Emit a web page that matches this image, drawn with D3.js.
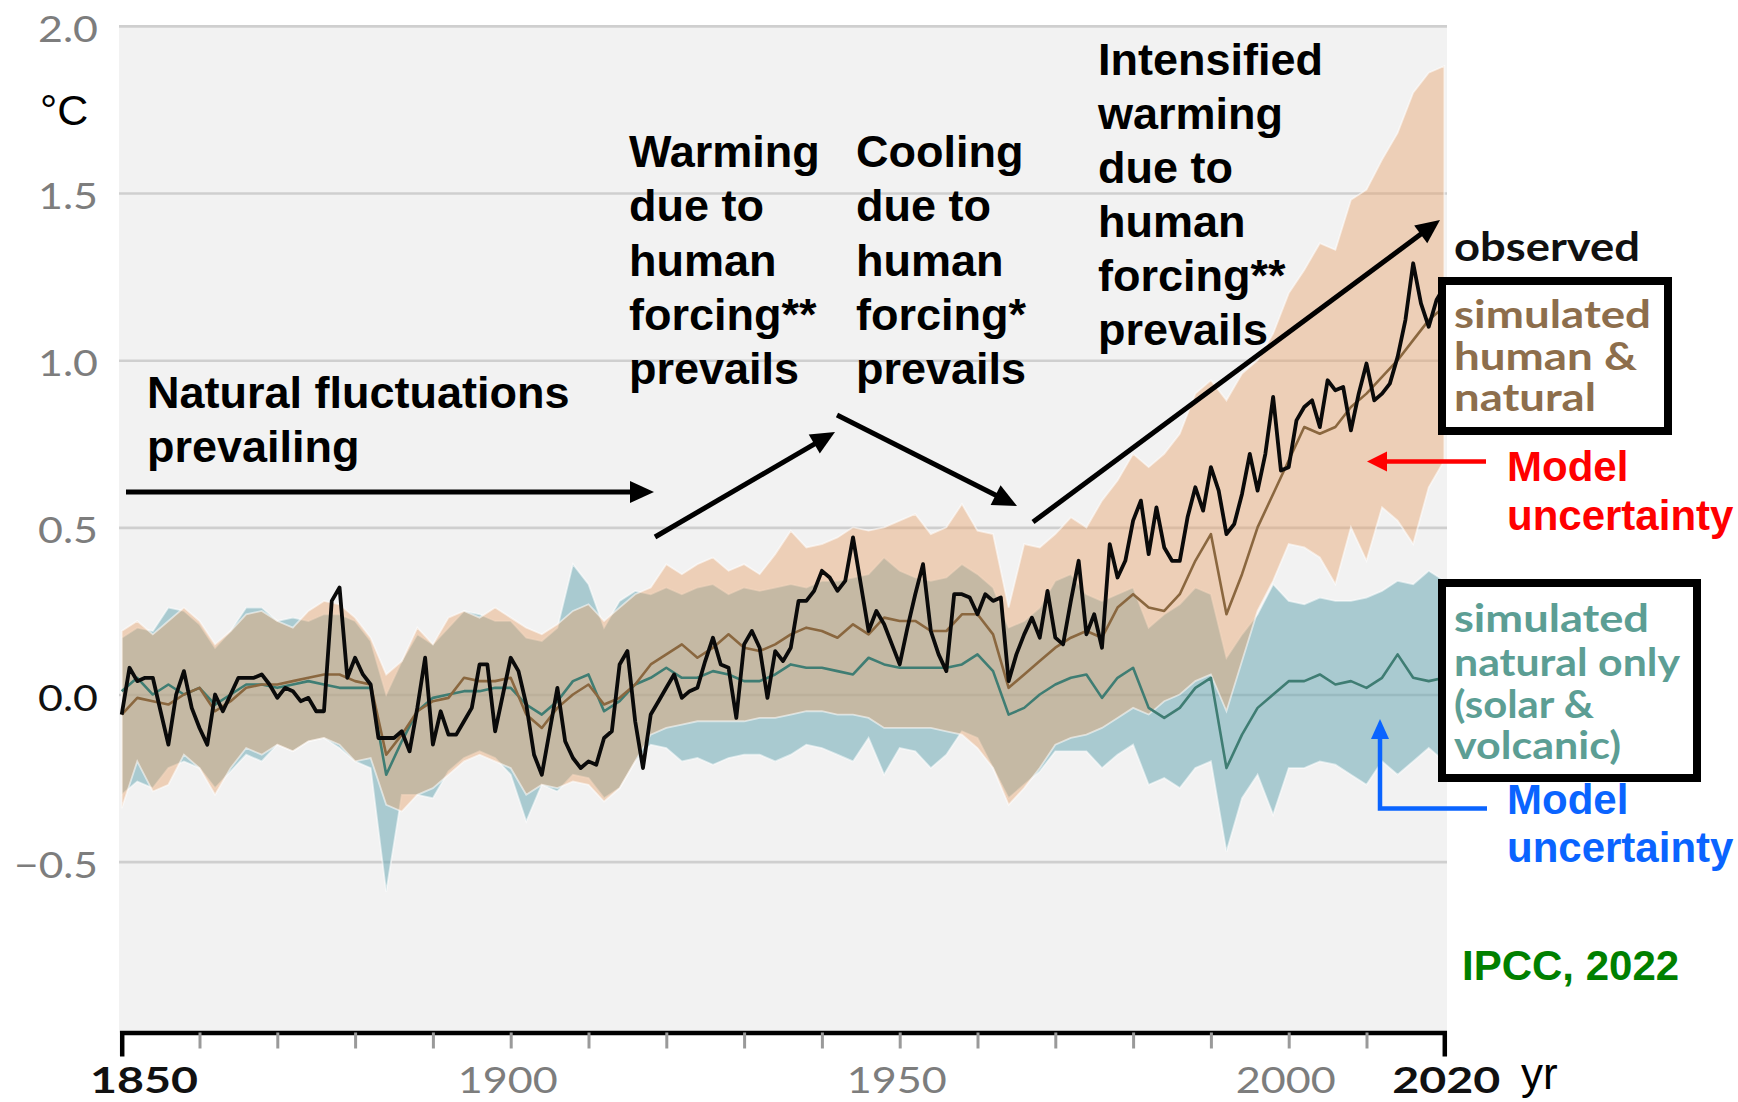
<!DOCTYPE html>
<html><head><meta charset="utf-8">
<script src="https://cdn.jsdelivr.net/npm/d3@7"></script>
<style>
html,body{margin:0;padding:0;background:#fff;}
svg{display:block;}
</style></head>
<body>
<svg id="chart" width="1738" height="1102"></svg>
<script>
// ---------------- DATA ----------------
// Observed annual global surface temperature change (°C), 1850..2020
const observedStart = 1850;
const observed = [
 -0.06, 0.08, 0.04, 0.05, 0.05,-0.05,-0.15, 0.00, 0.07,-0.04,
 -0.10,-0.15, 0.00,-0.05, 0.00, 0.05, 0.05, 0.05, 0.06, 0.03,
 -0.01, 0.02, 0.01,-0.02,-0.01,-0.05,-0.05, 0.28, 0.32, 0.05,
  0.11, 0.06, 0.03,-0.13,-0.13,-0.13,-0.11,-0.17,-0.04, 0.11,
 -0.15,-0.05,-0.12,-0.12,-0.08,-0.04, 0.09, 0.09,-0.11, 0.00,
  0.11, 0.07,-0.03,-0.18,-0.24,-0.11, 0.02,-0.14,-0.19,-0.22,
 -0.20,-0.21,-0.13,-0.11, 0.09, 0.13,-0.08,-0.22,-0.06,-0.02,
  0.02, 0.06,-0.01, 0.01, 0.02, 0.10, 0.17, 0.09, 0.08,-0.07,
  0.15, 0.19, 0.14,-0.01, 0.13, 0.10, 0.14, 0.28, 0.28, 0.31,
  0.37, 0.35, 0.31, 0.34, 0.47, 0.33, 0.19, 0.25, 0.21, 0.15,
  0.09, 0.20, 0.30, 0.39, 0.19, 0.12, 0.07, 0.30, 0.30, 0.29,
  0.24, 0.30, 0.28, 0.29, 0.04, 0.12, 0.18, 0.23, 0.17, 0.31,
  0.17, 0.15, 0.28, 0.40, 0.18, 0.24, 0.14, 0.45, 0.35, 0.40,
  0.52, 0.58, 0.42, 0.56, 0.44, 0.40, 0.40, 0.53, 0.62, 0.55,
  0.68, 0.61, 0.48, 0.51, 0.60, 0.72, 0.61, 0.72, 0.89, 0.67,
  0.68, 0.82, 0.86, 0.88, 0.80, 0.94, 0.91, 0.92, 0.79, 0.90,
  0.99, 0.88, 0.90, 0.93, 1.01, 1.12, 1.29, 1.17, 1.10, 1.18,
  1.22
];

// Simulated series, every second year 1850..2020
const simStart = 1850, simStep = 2;
const humanMean = [
 -0.06,-0.01,-0.02,-0.03, 0.00,
  0.02,-0.05,-0.02, 0.02, 0.03,
  0.03, 0.04, 0.05, 0.06, 0.06,
  0.04, 0.03,-0.18,-0.12,-0.05,
 -0.02,-0.01, 0.05, 0.04, 0.04,
  0.05,-0.06,-0.10,-0.04, 0.00,
  0.03,-0.03,-0.01, 0.03, 0.09,
  0.12, 0.15, 0.11, 0.14, 0.18,
  0.14, 0.13, 0.15, 0.18, 0.20,
  0.19, 0.17, 0.21, 0.18, 0.23,
  0.22, 0.22, 0.19, 0.19, 0.24,
  0.24, 0.18, 0.02, 0.06, 0.10,
  0.14, 0.17, 0.19, 0.17, 0.26,
  0.30, 0.26, 0.25, 0.30, 0.40,
  0.48, 0.24, 0.36, 0.50, 0.60,
  0.70, 0.80, 0.78, 0.80, 0.86,
  0.90, 0.95, 1.00, 1.06, 1.12,
  1.16
];
const humanHi = [
  0.19, 0.22, 0.18, 0.22, 0.26,
  0.22, 0.15, 0.19, 0.24, 0.25,
  0.22, 0.20, 0.25, 0.28, 0.27,
  0.23, 0.17, 0.06, 0.10, 0.20,
  0.15, 0.23, 0.25, 0.23, 0.26,
  0.23, 0.20, 0.18, 0.21, 0.25,
  0.27, 0.22, 0.26, 0.30, 0.32,
  0.39, 0.36, 0.39, 0.41, 0.37,
  0.39, 0.36, 0.42, 0.49, 0.44,
  0.45, 0.47, 0.50, 0.49, 0.50,
  0.52, 0.54, 0.48, 0.50, 0.57,
  0.49, 0.48, 0.26, 0.45, 0.44,
  0.48, 0.53, 0.50, 0.58, 0.64,
  0.72, 0.68, 0.72, 0.78, 0.90,
  0.94, 0.88, 0.96, 1.00, 1.08,
  1.20, 1.27, 1.35, 1.33, 1.48,
  1.51, 1.60, 1.68, 1.80, 1.86,
  1.88
];
const humanLo = [
 -0.34,-0.20,-0.29,-0.27,-0.18,
 -0.22,-0.30,-0.22,-0.16,-0.18,
 -0.15,-0.17,-0.14,-0.13,-0.15,
 -0.20,-0.19,-0.33,-0.35,-0.30,
 -0.28,-0.24,-0.20,-0.18,-0.20,
 -0.22,-0.30,-0.27,-0.28,-0.26,
 -0.27,-0.32,-0.28,-0.20,-0.12,
 -0.10,-0.09,-0.08,-0.08,-0.08,
 -0.08,-0.07,-0.07,-0.06,-0.05,
 -0.05,-0.06,-0.06,-0.07,-0.10,
 -0.10,-0.10,-0.10,-0.11,-0.12,
 -0.16,-0.22,-0.33,-0.28,-0.22,
 -0.15,-0.13,-0.12,-0.10,-0.07,
 -0.04,-0.06,-0.02, 0.00, 0.04,
  0.06,-0.05, 0.10, 0.25, 0.34,
  0.45, 0.44, 0.41, 0.33, 0.50,
  0.40, 0.56, 0.52, 0.45, 0.62,
  0.70
];
const naturalMean = [
  0.01, 0.05, 0.00, 0.03, 0.00,
  0.02,-0.03, 0.00, 0.03, 0.03,
  0.02, 0.03, 0.04, 0.03, 0.02,
  0.02, 0.02,-0.24,-0.14,-0.05,
 -0.01, 0.00, 0.01, 0.01, 0.02,
  0.02,-0.03,-0.06,-0.02, 0.04,
  0.06,-0.05,-0.02, 0.03, 0.05,
  0.08, 0.05, 0.05, 0.07, 0.06,
  0.04, 0.04, 0.06, 0.09, 0.08,
  0.08, 0.07, 0.06, 0.11, 0.09,
  0.08, 0.08, 0.08, 0.08, 0.09,
  0.12, 0.07,-0.06,-0.04, 0.00,
  0.03, 0.05, 0.06,-0.01, 0.05,
  0.08,-0.04,-0.07,-0.04, 0.02,
  0.05,-0.22,-0.12,-0.04, 0.00,
  0.04, 0.04, 0.06, 0.03, 0.04,
  0.02, 0.05, 0.12, 0.05, 0.04,
  0.05
];
const naturalHi = [
  0.17, 0.20, 0.19, 0.26, 0.25,
  0.21, 0.14, 0.19, 0.26, 0.26,
  0.22, 0.23, 0.22, 0.24, 0.24,
  0.22, 0.16, 0.00, 0.10, 0.18,
  0.15, 0.20, 0.25, 0.24, 0.22,
  0.22, 0.17, 0.16, 0.20, 0.39,
  0.33, 0.20, 0.28, 0.31, 0.30,
  0.32, 0.30, 0.32, 0.33, 0.30,
  0.32, 0.31, 0.32, 0.33, 0.32,
  0.34, 0.34, 0.35, 0.36, 0.41,
  0.37, 0.35, 0.34, 0.35, 0.39,
  0.36, 0.32, 0.20, 0.22, 0.26,
  0.34, 0.36, 0.30, 0.28, 0.30,
  0.32, 0.20, 0.24, 0.27, 0.32,
  0.30, 0.11, 0.18, 0.24, 0.33,
  0.28, 0.27, 0.29, 0.28, 0.28,
  0.29, 0.31, 0.34, 0.33, 0.37,
  0.34
];
const naturalLo = [
 -0.30,-0.26,-0.28,-0.22,-0.20,
 -0.22,-0.28,-0.23,-0.18,-0.20,
 -0.15,-0.17,-0.14,-0.13,-0.16,
 -0.20,-0.22,-0.59,-0.30,-0.30,
 -0.31,-0.23,-0.19,-0.17,-0.19,
 -0.24,-0.38,-0.27,-0.29,-0.24,
 -0.25,-0.31,-0.28,-0.20,-0.15,
 -0.16,-0.20,-0.19,-0.21,-0.19,
 -0.18,-0.18,-0.20,-0.18,-0.15,
 -0.16,-0.18,-0.20,-0.13,-0.24,
 -0.16,-0.17,-0.22,-0.18,-0.11,
 -0.13,-0.22,-0.31,-0.27,-0.23,
 -0.17,-0.17,-0.17,-0.22,-0.18,
 -0.15,-0.27,-0.25,-0.28,-0.22,
 -0.20,-0.47,-0.31,-0.24,-0.36,
 -0.22,-0.22,-0.20,-0.21,-0.24,
 -0.27,-0.20,-0.24,-0.20,-0.16,
 -0.20
];

const yTicks = [2.0, 1.5, 1.0, 0.5, 0.0, -0.5];
const yTickLabels = ["2.0", "1.5", "1.0", "0.5", "0.0", "\u22120.5"];
const xMinorTicks = [1860,1870,1880,1890,1900,1910,1920,1930,1940,1950,1960,1970,1980,1990,2000,2010];
const xLabelYears = [1850, 1900, 1950, 2000, 2020];

const annWarming = ["Warming", "due to", "human", "forcing**", "prevails"];
const annCooling = ["Cooling", "due to", "human", "forcing*", "prevails"];
const annIntensified = ["Intensified", "warming", "due to", "human", "forcing**", "prevails"];
const annNatural = ["Natural fluctuations", "prevailing"];
const legendHuman = ["simulated", "human &", "natural"];
const legendNatural = ["simulated", "natural only", "(solar &", "volcanic)"];
const uncertaintyText = ["Model", "uncertainty"];

// ---------------- DRAW ----------------
const svg = d3.select("#chart");
const x = d3.scaleLinear().domain([1850, 2020]).range([121.7, 1444.3]);
const y = d3.scaleLinear().domain([-1.011, 2]).range([1032.5, 25.9]);

const PL = 119, PR = 1447;
const ARIAL = "'Liberation Sans', Arial, sans-serif";
const LATO = "Lato, 'Open Sans', sans-serif";

// plot background
svg.append("rect").attr("x", PL).attr("y", y(2)).attr("width", PR - PL)
  .attr("height", y.range()[0] - y(2)).attr("fill", "#f2f2f2");

// gridlines
const grid = svg.append("g").attr("transform", `translate(${PL},0)`)
  .call(d3.axisLeft(y).tickValues(yTicks).tickSize(-(PR - PL)).tickFormat(""));
grid.select(".domain").remove();
grid.selectAll("line").attr("stroke", "#cfcfcf").attr("stroke-width", 2.6);

// y labels
const yl = svg.append("g").attr("transform", `translate(${PL},0)`)
  .call(d3.axisLeft(y).tickValues(yTicks).tickSize(0).tickPadding(21)
    .tickFormat((d, i) => yTickLabels[i]));
yl.select(".domain").remove();
yl.selectAll("text")
  .attr("font-family", LATO).attr("font-size", 37).attr("dy", "0.42em")
  .attr("fill", d => d === 0 ? "#111" : "#7d7d7d")
  .attr("textLength", (d, i) => yTickLabels[i].length > 3 ? 84 : 60)
  .attr("lengthAdjust", "spacingAndGlyphs");

// series objects
const simYears = humanMean.map((_, i) => simStart + i * simStep);
const humanBand = simYears.map((yr, i) => ({year: yr, lo: humanLo[i], hi: humanHi[i]}));
const naturalBand = simYears.map((yr, i) => ({year: yr, lo: naturalLo[i], hi: naturalHi[i]}));
const humanLine = simYears.map((yr, i) => ({year: yr, v: humanMean[i]}));
const naturalLine = simYears.map((yr, i) => ({year: yr, v: naturalMean[i]}));
const obsLine = observed.map((v, i) => ({year: observedStart + i, v}));

const area = d3.area().x(d => x(d.year)).y0(d => y(d.lo)).y1(d => y(d.hi));
const line = d3.line().x(d => x(d.year)).y(d => y(d.v));

svg.append("path").datum(naturalBand).attr("d", area)
  .attr("fill", "rgb(110,170,180)").attr("fill-opacity", 0.55)
  .attr("stroke", "#fff").attr("stroke-opacity", 0.55).attr("stroke-width", 1.8);
svg.append("path").datum(humanBand).attr("d", area)
  .attr("fill", "rgb(230,165,110)").attr("fill-opacity", 0.45)
  .attr("stroke", "#fff").attr("stroke-opacity", 0.55).attr("stroke-width", 1.8);

svg.append("path").datum(naturalLine).attr("d", line)
  .attr("fill", "none").attr("stroke", "#3f7d73").attr("stroke-width", 2.6).attr("stroke-linejoin", "round");
svg.append("path").datum(humanLine).attr("d", line)
  .attr("fill", "none").attr("stroke", "#8a673f").attr("stroke-width", 2.6).attr("stroke-linejoin", "round");
svg.append("path").datum(obsLine).attr("d", line)
  .attr("fill", "none").attr("stroke", "#0a0a0a").attr("stroke-width", 3.8).attr("stroke-linejoin", "round");

// x axis
const xa = svg.append("g").attr("transform", `translate(0,${y.range()[0]})`)
  .call(d3.axisBottom(x).tickValues(xMinorTicks).tickSize(16).tickSizeOuter(24).tickFormat(""));
xa.select(".domain").attr("stroke", "#000").attr("stroke-width", 4.5).attr("fill", "none");
xa.selectAll(".tick line").attr("stroke", "#9a9a9a").attr("stroke-width", 3);

// x labels
xLabelYears.forEach(yr => {
  const major = (yr === 1850 || yr === 2020);
  svg.append("text")
    .attr("x", yr === 1850 ? 90 : x(yr) + (yr === 2020 ? 2 : -3))
    .attr("y", 1093)
    .attr("text-anchor", yr === 1850 ? "start" : "middle")
    .attr("font-family", LATO).attr("font-size", 37)
    .attr("font-weight", major ? 700 : 400)
    .attr("fill", major ? "#111" : "#7d7d7d")
    .attr("textLength", major ? 108 : 100).attr("lengthAdjust", "spacingAndGlyphs")
    .text(yr);
});

svg.append("text").attr("x", 1521).attr("y", 1089).attr("font-family", ARIAL)
  .attr("font-size", 44).attr("fill", "#000").text("yr");
svg.append("text").attr("x", 40).attr("y", 125).attr("font-family", ARIAL)
  .attr("font-size", 43).attr("fill", "#000").text("°C");

// helper: multi-line text
function block(lines, x0, baselines, opts) {
  const t = svg.append("text").attr("font-family", opts.family || ARIAL)
    .attr("font-size", opts.size).attr("font-weight", opts.weight || 700)
    .attr("fill", opts.color || "#000");
  lines.forEach((s, i) => {
    const sp = t.append("tspan").attr("x", x0).attr("y", baselines[i]).text(s);
    if (opts.lengths) sp.attr("textLength", opts.lengths[i]).attr("lengthAdjust", "spacingAndGlyphs");
  });
}

block(annNatural, 147, [408, 462], {size: 45});
block(annWarming, 629, [167, 221, 276, 330, 384], {size: 45});
block(annCooling, 856, [167, 221, 276, 330, 384], {size: 45});
block(annIntensified, 1098, [75, 129, 183, 237, 291, 345], {size: 45});

// arrows
function arrow(pts, color, w, hl, hw) {
  const n = pts.length;
  const [xe, ye] = pts[n - 1], [xp, yp] = pts[n - 2];
  const L = Math.hypot(xe - xp, ye - yp), ux = (xe - xp) / L, uy = (ye - yp) / L;
  const bx = xe - ux * hl, by = ye - uy * hl;
  const shaft = pts.slice(0, n - 1).concat([[bx + ux * 2, by + uy * 2]]);
  svg.append("path").attr("d", d3.line()(shaft)).attr("fill", "none")
    .attr("stroke", color).attr("stroke-width", w).attr("stroke-linejoin", "miter");
  svg.append("path").attr("d", d3.line()([[xe, ye], [bx - uy * hw, by + ux * hw], [bx + uy * hw, by - ux * hw]]) + "Z")
    .attr("fill", color);
}
arrow([[126, 492], [654, 492]], "#000", 5, 24, 11);
arrow([[655, 537], [835, 432]], "#000", 5, 24, 11);
arrow([[837, 415], [1017, 506]], "#000", 5, 24, 11);
arrow([[1033, 522], [1440, 220]], "#000", 5, 24, 11);
arrow([[1486, 461.5], [1367, 461.5]], "#ff0000", 4.5, 20, 10);
arrow([[1487, 808.5], [1380, 808.5], [1380, 719]], "#0a64ff", 4.5, 20, 9);

// legend boxes
svg.append("rect").attr("x", 1442).attr("y", 281).attr("width", 226).attr("height", 150)
  .attr("fill", "#fff").attr("stroke", "#000").attr("stroke-width", 8);
svg.append("rect").attr("x", 1442).attr("y", 583).attr("width", 255).attr("height", 195)
  .attr("fill", "#fff").attr("stroke", "#000").attr("stroke-width", 8);

svg.append("text").attr("x", 1454).attr("y", 261).attr("font-family", LATO)
  .attr("font-size", 40).attr("font-weight", 700).attr("fill", "#111")
  .attr("textLength", 186).attr("lengthAdjust", "spacingAndGlyphs").text("observed");
block(legendHuman, 1454, [328, 370, 411], {family: LATO, size: 39, color: "#8d6e4c", lengths: [197, 183, 142]});
block(legendNatural, 1454, [632, 676, 718, 759], {family: LATO, size: 39, color: "#5c9e94", lengths: [195, 226, 140, 167]});

block(uncertaintyText, 1507, [481, 530], {size: 42, color: "#ff0000"});
block(uncertaintyText, 1507, [814, 862], {size: 42, color: "#0a64ff"});
svg.append("text").attr("x", 1462).attr("y", 980).attr("font-family", ARIAL)
  .attr("font-size", 42).attr("font-weight", 700).attr("fill", "#008000").text("IPCC, 2022");
</script>
</body></html>
